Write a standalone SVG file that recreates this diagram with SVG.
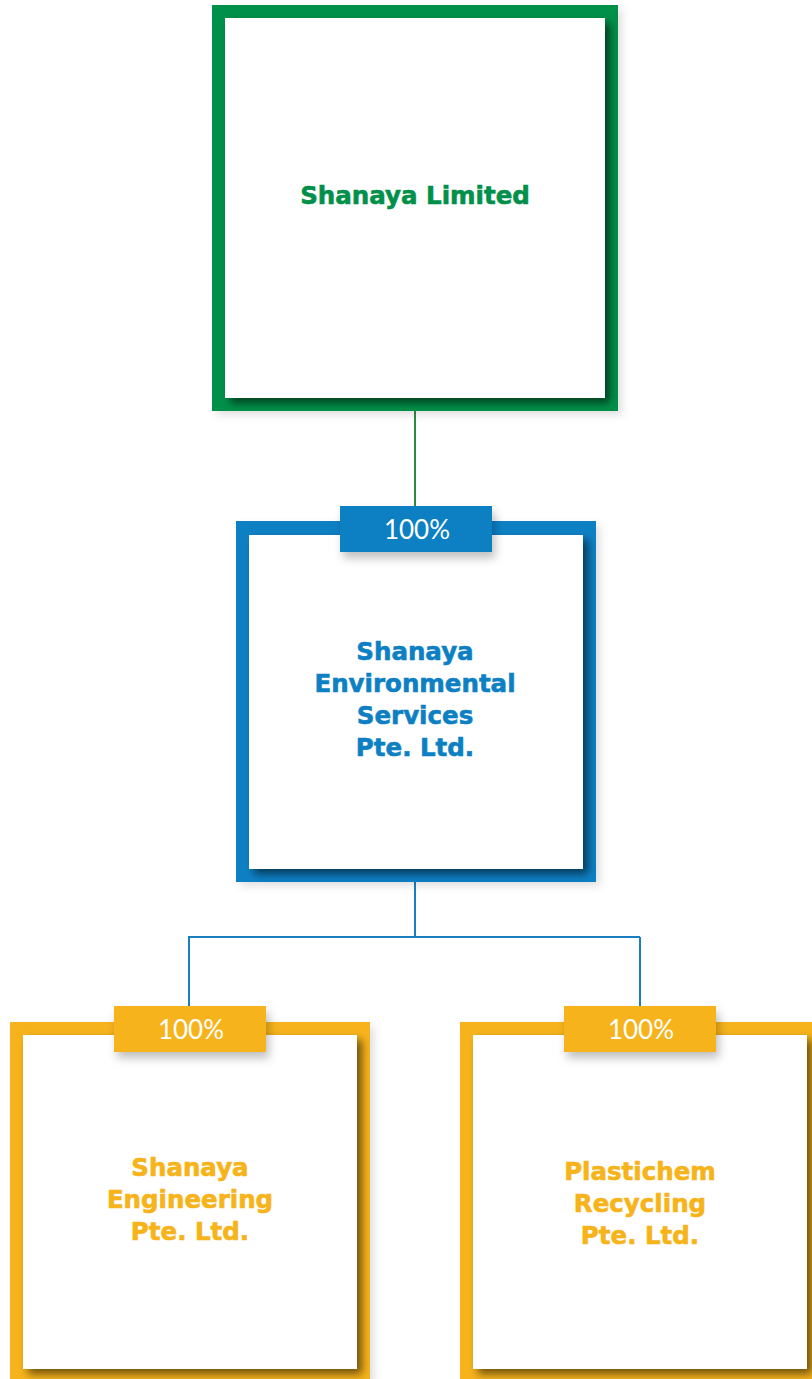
<svg xmlns="http://www.w3.org/2000/svg" width="812" height="1379" viewBox="0 0 812 1379">
<defs>
<filter id="outer" x="-10%" y="-10%" width="130%" height="130%">
<feDropShadow dx="4" dy="4" stdDeviation="4" flood-color="#000" flood-opacity="0.12"/>
</filter>
<filter id="inner" x="-10%" y="-10%" width="130%" height="130%">
<feDropShadow dx="5" dy="5" stdDeviation="4" flood-color="#000" flood-opacity="0.55"/>
</filter>
<filter id="tag" x="-20%" y="-30%" width="150%" height="190%">
<feDropShadow dx="3" dy="6" stdDeviation="5" flood-color="#000" flood-opacity="0.25"/>
</filter>
</defs>
<style>
.name{font-family:"DejaVu Sans",Lato,sans-serif;font-weight:700;font-size:24.5px;text-anchor:middle;stroke-width:0.6px}
.pct{font-family:Lato,"Open Sans","DejaVu Sans",sans-serif;font-weight:400;font-size:26px;fill:#fff;text-anchor:middle}
.g{fill:#00904A;stroke:#00904A}.b{fill:#0D80C4;stroke:#0D80C4}.y{fill:#F6B31A;stroke:#F6B31A}
rect.g,rect.b,rect.y{stroke:none}
</style>
<rect width="812" height="1379" fill="#fff"/>
<g id="connectors" fill="none" stroke-width="2">
<line x1="415" y1="411" x2="415" y2="506" stroke="#2E8B3E"/>
<polyline points="415,882 415,937 189,937 189,1006" stroke="#1A7FC0"/>
<line x1="415" y1="937" x2="640" y2="937" stroke="#1A7FC0"/>
<line x1="640" y1="937" x2="640" y2="1006" stroke="#1A7FC0"/>
</g>
<g id="shanaya-limited">
<rect x="212" y="5" width="406" height="406" class="g" filter="url(#outer)"/>
<rect x="225" y="18" width="380" height="380" fill="#fff" filter="url(#inner)"/>
<text x="415" y="204" class="name g">Shanaya Limited</text>
</g>
<g id="shanaya-environmental">
<rect x="236" y="521" width="360" height="361" class="b" filter="url(#outer)"/>
<rect x="249" y="535" width="334" height="334" fill="#fff" filter="url(#inner)"/>
<rect x="340" y="506" width="152" height="46" class="b" filter="url(#tag)"/>
<text x="417" y="539" class="pct">100%</text>
<text class="name b" x="415" y="660">Shanaya</text>
<text class="name b" x="415" y="692">Environmental</text>
<text class="name b" x="415" y="724">Services</text>
<text class="name b" x="415" y="756">Pte. Ltd.</text>
</g>
<g id="shanaya-engineering">
<rect x="10" y="1022" width="360" height="370" class="y" filter="url(#outer)"/>
<rect x="23" y="1035" width="334" height="334" fill="#fff" filter="url(#inner)"/>
<rect x="114" y="1006" width="152" height="46" class="y" filter="url(#tag)"/>
<text x="191" y="1039" class="pct">100%</text>
<text class="name y" x="190" y="1176">Shanaya</text>
<text class="name y" x="190" y="1208">Engineering</text>
<text class="name y" x="190" y="1240">Pte. Ltd.</text>
</g>
<g id="plastichem-recycling">
<rect x="460" y="1022" width="360" height="370" class="y" filter="url(#outer)"/>
<rect x="473" y="1035" width="334" height="334" fill="#fff" filter="url(#inner)"/>
<rect x="564" y="1006" width="152" height="46" class="y" filter="url(#tag)"/>
<text x="641" y="1039" class="pct">100%</text>
<text class="name y" x="640" y="1180">Plastichem</text>
<text class="name y" x="640" y="1212">Recycling</text>
<text class="name y" x="640" y="1244">Pte. Ltd.</text>
</g>
</svg>
